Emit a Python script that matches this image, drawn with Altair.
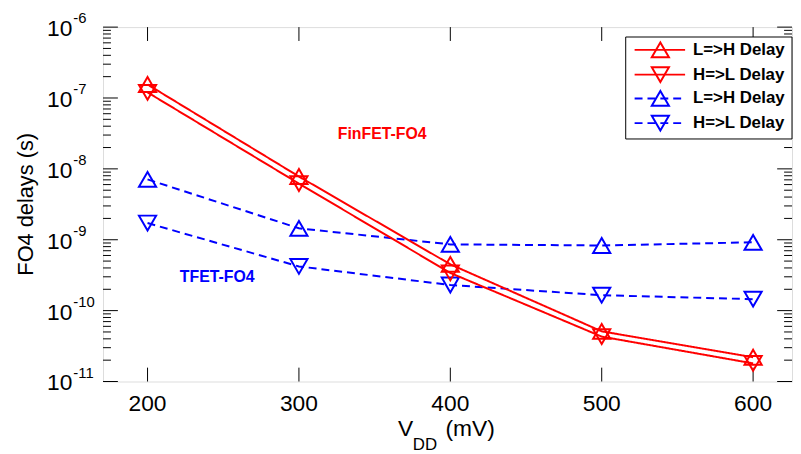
import altair as alt
import pandas as pd

# ---------------- data ----------------
vdd = [200, 300, 400, 500, 600]
finfet_lh = [1.55e-7, 7.8e-9, 4.5e-10, 5.1e-11, 2.2e-11]
finfet_hl = [1.2e-7, 6.2e-9, 3.4e-10, 4.3e-11, 1.8e-11]
tfet_lh = [7.1e-9, 1.45e-9, 8.6e-10, 8.3e-10, 9.2e-10]
tfet_hl = [1.72e-9, 4.2e-10, 2.3e-10, 1.65e-10, 1.45e-10]

series_names = ["FinFET L=>H", "FinFET H=>L", "TFET L=>H", "TFET H=>L"]
legend_labels = ["L=>H Delay", "H=>L Delay", "L=>H Delay", "H=>L Delay"]
series_colors = ["#ff0000", "#ff0000", "#0000ff", "#0000ff"]
series_shapes = ["triangle-up", "triangle-down", "triangle-up", "triangle-down"]
series_dash = [[1, 0], [1, 0], [8, 5], [8, 5]]

x_ticks = [200, 300, 400, 500, 600]
y_decades = [-11, -10, -9, -8, -7, -6]

annotations = ["FinFET-FO4", "TFET-FO4"]
annot_x = [355, 246]
annot_y = [3.1e-8, 3.0e-10]
annot_colors = ["#ff0000", "#0000ff"]

# ---------------- frames ----------------
values = [finfet_lh, finfet_hl, tfet_lh, tfet_hl]
rows = []
for name, vals in zip(series_names, values):
    for v, d in zip(vdd, vals):
        rows.append({"vdd": v, "delay": d, "series": name})
df = pd.DataFrame(rows)

W, H = 696, 358
FONT = "Liberation Sans"

xscale = alt.Scale(domain=[170.6, 625.7], nice=False, zero=False)
yscale = alt.Scale(type="log", domain=[1e-11, 1e-6], nice=False)

X = alt.X("vdd:Q", scale=xscale, axis=None)
Y = alt.Y("delay:Q", scale=yscale, axis=None)

order_blue_first = ["TFET L=>H", "TFET H=>L", "FinFET L=>H", "FinFET H=>L"]

lines = []
for name in order_blue_first:
    i = series_names.index(name)
    sub = df[df.series == name]
    lines.append(
        alt.Chart(sub).mark_line(strokeWidth=2, color=series_colors[i],
                                 strokeDash=series_dash[i]).encode(x=X, y=Y)
    )
    lines.append(
        alt.Chart(sub).mark_point(filled=False, strokeWidth=2, size=300, opacity=1,
                                  color=series_colors[i], shape=series_shapes[i]).encode(x=X, y=Y)
    )

# ---------------- ticks (inward, MATLAB style) ----------------
major = pd.DataFrame({"v": [10.0 ** k for k in y_decades]})
minor = pd.DataFrame({"v": [m * 10.0 ** k for k in y_decades[:-1] for m in range(2, 10)]})
xt = pd.DataFrame({"v": x_ticks, "t": [str(v) for v in x_ticks]})

Yv = alt.Y("v:Q", scale=yscale, axis=None)
Xv = alt.X("v:Q", scale=xscale, axis=None)
tick_layers = [
    alt.Chart(major).mark_rule(color="black", strokeWidth=1).encode(y=Yv, x=alt.value(0), x2=alt.value(15)),
    alt.Chart(major).mark_rule(color="black", strokeWidth=1).encode(y=Yv, x=alt.value(W), x2=alt.value(W - 15)),
    alt.Chart(minor).mark_rule(color="black", strokeWidth=1).encode(y=Yv, x=alt.value(0), x2=alt.value(8)),
    alt.Chart(minor).mark_rule(color="black", strokeWidth=1).encode(y=Yv, x=alt.value(W), x2=alt.value(W - 8)),
    alt.Chart(xt).mark_rule(color="black", strokeWidth=1).encode(x=Xv, y=alt.value(H), y2=alt.value(H - 14)),
    alt.Chart(xt).mark_rule(color="black", strokeWidth=1).encode(x=Xv, y=alt.value(0), y2=alt.value(14)),
]

# ---------------- tick labels ----------------
ylab = pd.DataFrame({"v": [10.0 ** k for k in y_decades], "exp": [str(k) for k in y_decades]})
label_layers = [
    alt.Chart(ylab).mark_text(align="right", baseline="middle", fontSize=23, font=FONT,
                              color="black", dy=2).encode(
        y=Yv, x=alt.value(-31), text=alt.value("10")),
    alt.Chart(ylab).mark_text(align="left", baseline="middle", fontSize=15, font=FONT,
                              color="black", dy=-9).encode(
        y=Yv, x=alt.value(-30), text="exp:N"),
    alt.Chart(xt).mark_text(align="center", baseline="middle", fontSize=23, font=FONT,
                            color="black").encode(
        x=Xv, y=alt.value(H + 23), text="t:N"),
]

# ---------------- annotations ----------------
ann = pd.DataFrame({"x": annot_x, "y": annot_y, "t": annotations, "c": annot_colors})
ann_layer = alt.Chart(ann).mark_text(fontSize=16, fontWeight="bold", font=FONT,
                                     baseline="middle", align="center").encode(
    x=alt.X("x:Q", scale=xscale, axis=None), y=alt.Y("y:Q", scale=yscale, axis=None),
    text="t:N", color=alt.Color("c:N", scale=None, legend=None))

# ---------------- titles ----------------
one = pd.DataFrame({"a": [0]})
title_layers = [
    alt.Chart(one).mark_text(angle=270, fontSize=22, font=FONT, color="black",
                             baseline="middle", align="center").encode(
        x=alt.value(-78), y=alt.value(179), text=alt.value("FO4 delays (s)")),
    alt.Chart(one).mark_text(fontSize=23, font=FONT, color="black",
                             baseline="alphabetic", align="left").encode(
        x=alt.value(298), y=alt.value(413), text=alt.value("V")),
    alt.Chart(one).mark_text(fontSize=17, font=FONT, color="black",
                             baseline="alphabetic", align="left").encode(
        x=alt.value(313), y=alt.value(427), text=alt.value("DD")),
    alt.Chart(one).mark_text(fontSize=23, font=FONT, color="black",
                             baseline="alphabetic", align="left").encode(
        x=alt.value(346), y=alt.value(413), text=alt.value("(mV)")),
]

# ---------------- legend ----------------
legend_layers = [
    alt.Chart(one).mark_rect(fill="white", stroke="black", strokeWidth=1).encode(
        x=alt.value(528), x2=alt.value(W), y=alt.value(10), y2=alt.value(113))
]
row_y = [23, 48, 72, 97]
for i in range(4):
    legend_layers.append(
        alt.Chart(one).mark_rule(strokeWidth=2, color=series_colors[i],
                                 strokeDash=series_dash[i]).encode(
            x=alt.value(537), x2=alt.value(588), y=alt.value(row_y[i])))
    legend_layers.append(
        alt.Chart(one).mark_point(filled=False, strokeWidth=2, size=300, opacity=1,
                                  color=series_colors[i], shape=series_shapes[i]).encode(
            x=alt.value(563), y=alt.value(row_y[i])))
    legend_layers.append(
        alt.Chart(one).mark_text(align="left", baseline="middle", fontSize=17,
                                 fontWeight="bold", font=FONT, color="black").encode(
            x=alt.value(596), y=alt.value(row_y[i]), text=alt.value(legend_labels[i])))

chart = alt.layer(
    *tick_layers, *lines, ann_layer, *label_layers, *title_layers, *legend_layers
).properties(
    width=W, height=H,
    autosize=alt.AutoSizeParams(type="none"),
    padding={"left": 96, "top": 17, "right": 1, "bottom": 78},
).configure_view(
    stroke="black", strokeWidth=1.5
).configure(background="white")

chart.save("out.html", embed_options={"renderer": "svg", "actions": False})
